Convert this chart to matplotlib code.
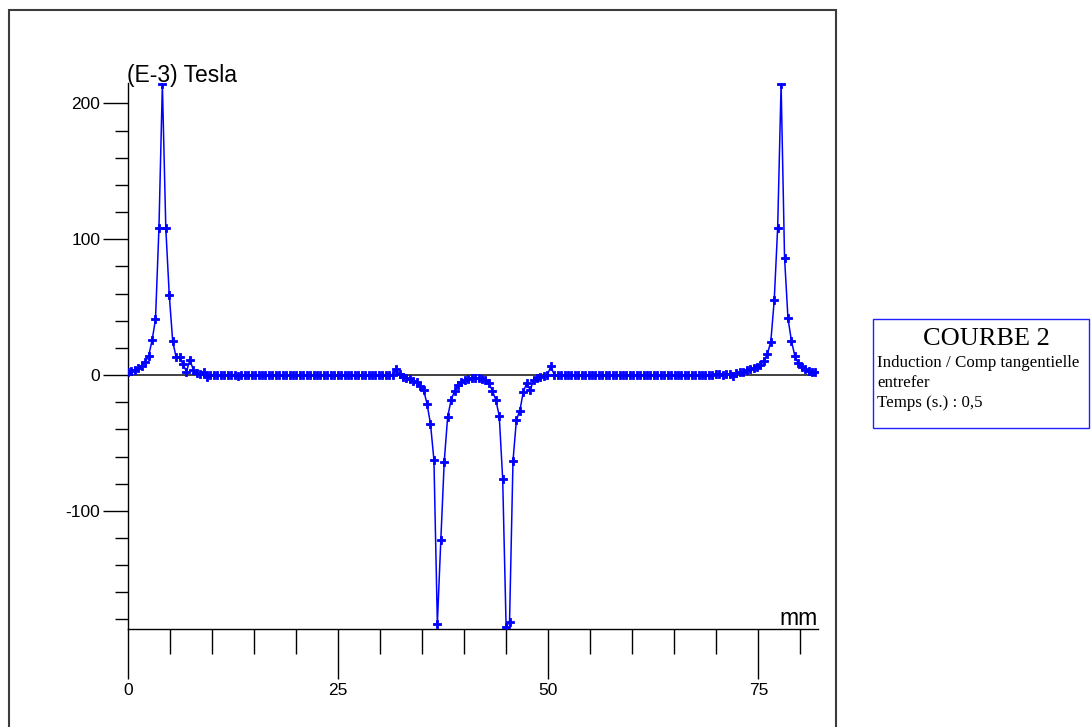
import numpy as np
import matplotlib
matplotlib.use("Agg")
import matplotlib.pyplot as plt
from matplotlib.patches import Rectangle

# Tangential induction in the air gap (E-3 Tesla) sampled along the gap (mm)
step_mm = 0.409

b_left_peak = [2.5, 3, 4, 5, 7, 9.5, 14, 25.5, 41, 108, 214, 108, 59, 25, 13,
               13.5, 8, 2.5, 11, 4, 1.2, 1, 2.5, -1.5, 0.3]
b_flat_left = [0.2, -0.3, 0.1, -0.2, -0.3, 0.0, -0.2, -0.4, -0.1, -0.3,
               0.1, -0.2, -0.3, -0.1, -0.2, 0.0, -0.3, -0.2, -0.1, -0.3,
               -0.2, 0.0, -0.3, -0.1, -0.2, -0.3, -0.1, 0.0, -0.2, -0.3,
               -0.1, -0.2, 0.0, -0.2, -0.3, -0.1, -0.2, -0.1, 0.0, -0.2,
               -0.1, -0.3, -0.1, 0.0, -0.2, -0.1, 0.1, -0.1, 0.0, 0.1,
               0.2, 0.3]
b_center = [0.3, 4.5, 0.5, -1.2, -2, -3, -4.2, -5.5, -7.8, -11,
            -21.3, -36, -62.5, -183, -121.8, -63.7, -30.6, -18.4, -11.8, -7.4,
            -4.9, -3.6, -2.8, -2.3, -2.1, -2.2, -2.7, -3.8, -6.1, -11.5,
            -18.4, -30.1, -76.5, -185.5, -181.6, -63.2, -33, -26.2, -12.3, -6.1,
            -11, -3.7, -2.5, -1.2, -0.6, 0, 6.3, 0.3]
b_flat_right = [0.1, 0.0, -0.2, -0.1, -0.3, -0.2, 0.0, -0.1, -0.3, -0.2,
                -0.1, 0.0, -0.2, -0.3, -0.1, -0.2, 0.0, -0.1, -0.3, -0.2,
                -0.1, -0.2, 0.0, -0.3, -0.1, -0.2, -0.1, 0.0, -0.2, -0.3,
                -0.1, -0.2, 0.0, -0.1, -0.2, -0.1, 0.0, -0.2, -0.1, 0.1,
                0.0, -0.1, 0.2, 0.1, 0.3, 0.2, 0.4, 0.6, 0.3, 0.7, 0.5]
b_right_peak = [-1.0, 1.5, 2.2, 2.5, 3.4, 4.2, 4.9, 6.1, 7.4, 10.5, 15.4, 24.5,
                55, 108.6, 214, 86.5, 41.7, 25.2, 14, 8.6, 6.1, 4.2, 3.2, 2.5, 2.0]

b_values = np.array(b_left_peak + b_flat_left + b_center + b_flat_right + b_right_peak)
x_mm = np.arange(len(b_values)) * step_mm

x_major = [0, 25, 50, 75]
y_major = [-100, 0, 100, 200]

title = "COURBE 2"
info_lines = ["Induction / Comp tangentielle", "entrefer", "Temps (s.) : 0,5"]

W, H = 1091, 727
fig = plt.figure(figsize=(W / 100, H / 100), dpi=100)
fig.patch.set_facecolor("white")

ax = fig.add_axes([128 / W, 1 - 629 / H, (818 - 128) / W, (629 - 83) / H])
ax.set_xlim(0, 82.1)
ax.set_ylim(-187, 215)

ax.plot([0, x_mm[-1]], [0, 0], color="#333333", lw=1.3, zorder=1)
ax.plot(x_mm, b_values, color="#0000ff", lw=1.1, marker="P", markersize=5.8,
        markeredgewidth=0.6, markeredgecolor="#0000ff", zorder=3)

for s in ("top", "right"):
    ax.spines[s].set_visible(False)
for s in ("left", "bottom"):
    ax.spines[s].set_color("black")
    ax.spines[s].set_linewidth(1.0)

ax.set_xticks(x_major)
ax.set_xticks(np.arange(5, 81, 5), minor=True)
ax.set_yticks(y_major)
ax.set_yticks(np.arange(-180, 215, 20), minor=True)

tick_font = {"family": ["Liberation Sans", "DejaVu Sans"], "size": 12.5}
ax.set_xticklabels([str(v) for v in x_major], fontdict=tick_font)
ax.set_yticklabels([str(v) for v in y_major], fontdict=tick_font)
ax.tick_params(axis="x", which="major", direction="out", length=36, width=1, pad=3)
ax.tick_params(axis="x", which="minor", direction="out", length=18, width=1)
ax.tick_params(axis="y", which="major", direction="out", length=18, width=1, pad=2)
ax.tick_params(axis="y", which="minor", direction="out", length=9.5, width=1)

sans = ["Liberation Sans", "DejaVu Sans"]
serif = ["Liberation Serif", "DejaVu Serif"]
fig.text(127 / W, 1 - 82 / H, "(E-3) Tesla", family=sans, fontsize=16.5,
         ha="left", va="baseline")
fig.text(818 / W, 1 - 625 / H, "mm", family=sans, fontsize=16.5,
         ha="right", va="baseline")

# outer frame around the plot area
fig.patches.append(Rectangle((9 / W, -0.05), (836 - 9) / W, 1 - 10 / H + 0.05,
                             transform=fig.transFigure, fill=False,
                             ec="#3c3c3c", lw=1.5))

# caption box
fig.patches.append(Rectangle((873 / W, 1 - 428 / H), (1089 - 873) / W, (428 - 319) / H,
                             transform=fig.transFigure, fill=False,
                             ec="#2020ff", lw=1.0))
fig.text(986 / W, 1 - 345 / H, title, family=serif, fontsize=19,
         ha="center", va="baseline")
for k, line in enumerate(info_lines):
    fig.text(877 / W, 1 - (367 + 20 * k) / H, line, family=serif, fontsize=12.2,
             ha="left", va="baseline")

fig.savefig("out.png", dpi=100)
